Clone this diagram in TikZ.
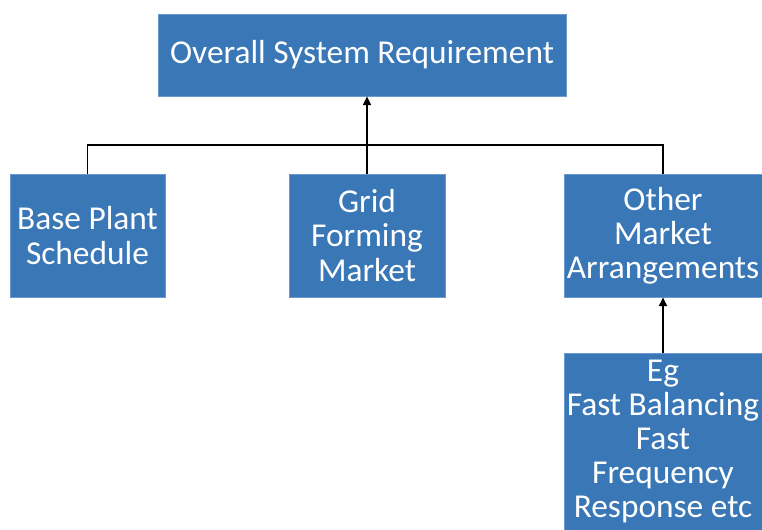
\documentclass[tikz,border=0pt]{standalone}
\usepackage{fontspec}
\setmainfont{Carlito}
\usepackage{tikz}
\usetikzlibrary{arrows.meta, positioning}
\definecolor{reqblue}{HTML}{3A77B7}
\definecolor{reqedge}{HTML}{6A9BD0}

\begin{document}
\begin{tikzpicture}[
  req/.style={
    rectangle, draw=reqedge, fill=reqblue, line width=0.4pt,
    text=white, align=center, inner sep=0pt,
    font=\fontsize{19}{19.4}\selectfont},
  feed/.style={-{Triangle[length=5pt, width=4.5pt]}, line width=1pt, black},
  bus/.style={line width=1pt, black},
]
  \useasboundingbox (0,0) rectangle (15.24,10.6);

  \node[req, minimum width=8.16cm, minimum height=1.64cm] (top) at (7.24, 9.50) {Overall System Requirement};

  \node[req, minimum width=3.10cm, minimum height=2.46cm] (base) at (1.75, 5.89) {Base Plant\\Schedule};
  \node[req, minimum width=3.12cm, minimum height=2.46cm] (grid) at (7.34, 5.89) {Grid\\Forming\\Market};
  \node[req, minimum width=3.96cm, minimum height=2.46cm] (other) at (13.26, 5.89) {Other\\Market\\Arrangements};

  \node[req, minimum width=3.96cm, minimum height=3.54cm] (fast) at (13.26, 1.77) {Eg\\Fast Balancing\\Fast\\Frequency\\Response etc};

  % Bus
  \draw[bus] (base.north) -- ++(0,0.58) -| (other.north);

  % Feeds
  \draw[feed] (grid.north) -- (grid.north |- top.south);
  \draw[feed] (fast.north) -- (other.south);
\end{tikzpicture}
\end{document}
